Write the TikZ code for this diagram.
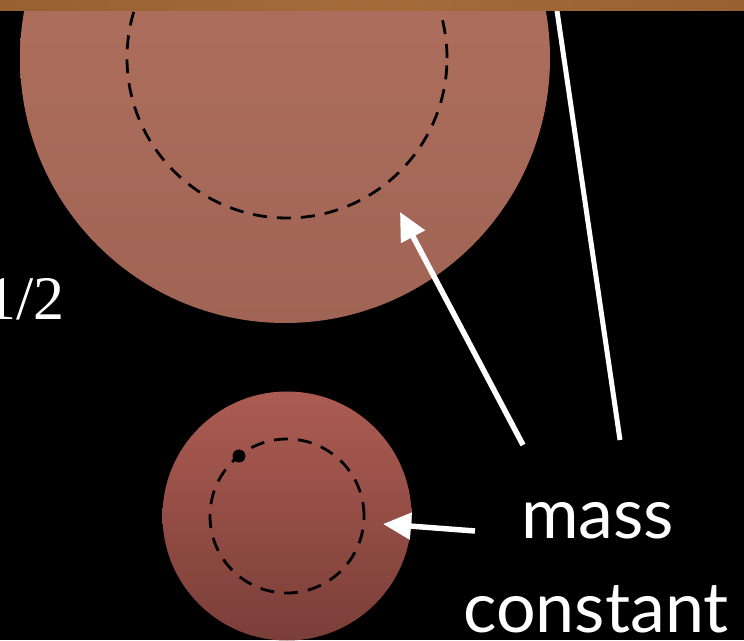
\documentclass[tikz,border=0pt]{standalone}
\usepackage{fontspec}
\setmainfont{Lato}
\newfontfamily\numfont{Liberation Serif}
\usetikzlibrary{arrows.meta}
\definecolor{bigtop}{RGB}{182,116,98}
\definecolor{bigbot}{RGB}{160,100,84}
\definecolor{smalltop}{RGB}{172,92,82}
\definecolor{smallbot}{RGB}{122,62,56}
\definecolor{woodA}{RGB}{150,96,48}
\definecolor{woodB}{RGB}{165,108,58}
\tikzset{
  ball/.style={circle, inner sep=0pt, draw=none},
  orbit/.style={circle, inner sep=0pt, draw=black, line width=2.8pt, dash pattern=on 14pt off 10pt},
  pointer/.style={draw=white, line width=5.5pt, -{Triangle[length=28pt,width=26pt]}},
  label/.style={text=white, inner sep=0pt, font=\fontsize{70}{80}\selectfont}
}
\begin{document}
\begin{tikzpicture}[x=1pt,y=1pt]
\useasboundingbox (0,0) rectangle (744,640);
\fill[black] (0,0) rectangle (744,640);
\begin{scope}
\clip (0,0) rectangle (744,640);
\node[ball, minimum size=530pt, top color=bigtop, bottom color=bigbot] (big) at (285,582) {};
\node[orbit, minimum size=320pt] (bigorbit) at (287,582) {};
\node[ball, minimum size=249pt, top color=smalltop, bottom color=smallbot] (small) at (287,124) {};
\node[orbit, minimum size=154pt] (smallorbit) at (287,124) {};
\node[circle, fill=black, inner sep=0pt, minimum size=13pt] (dot) at (239,184) {};
\coordinate (l2top) at (556,636);
\coordinate (l2bot) at (620,200);
\draw[white, line width=5pt] (l2top) -- (l2bot);
\shade[left color=woodA, right color=woodA, middle color=woodB] (0,629) rectangle (744,640);
\coordinate (a1tail) at (523,195);
\coordinate (a1tip) at (400,428);
\draw[pointer] (a1tail) -- (a1tip);
\coordinate (a3tail) at (475,109);
\coordinate (a3tip) at (383,116);
\draw[pointer] (a3tail) -- (a3tip);
\node[label, anchor=base east, font=\numfont\fontsize{62}{70}\selectfont] (half) at (65,320) {1/2};
\node[label, anchor=base west] (mass) at (521,102) {mass};
\node[label, anchor=base west] (const) at (463,8) {constant};
\end{scope}
\end{tikzpicture}
\end{document}
